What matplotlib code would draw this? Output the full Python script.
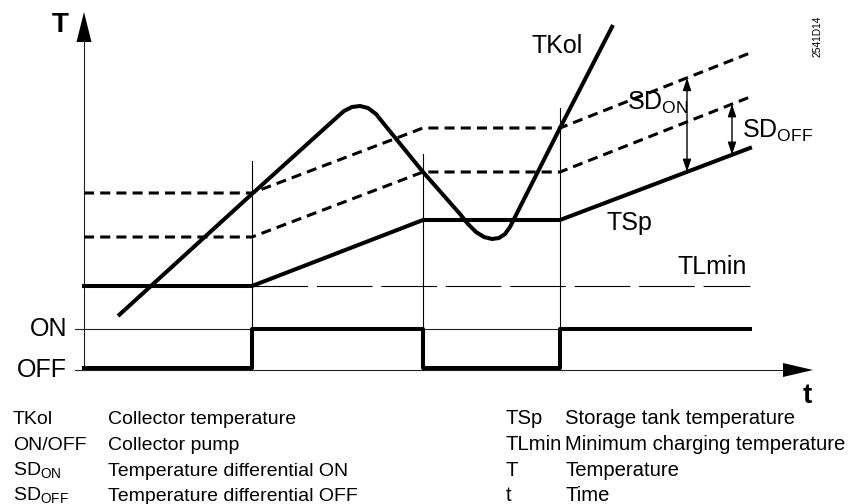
import numpy as np
import matplotlib
matplotlib.use('Agg')
import matplotlib.pyplot as plt
from matplotlib.patches import Polygon

plt.rcParams['font.family'] = ['Liberation Sans', 'DejaVu Sans']
plt.rcParams['mathtext.fontset'] = 'custom'
plt.rcParams['mathtext.rm'] = 'Liberation Sans'

# switching instants on the time axis and the storage tank curve
t_switch = [0, 168, 339, 476, 666]
tsp = [84, 84, 150, 150, 222]
tsp_sd_on = [177, 177, 242, 242, 317]    # TSp + SD_ON
tsp_sd_off = [133, 133, 198, 198, 273]   # TSp + SD_OFF
tlmin = 84
tlmin_t = [168, 666]
marker_tops = [209, 216, 262]            # heights of the switching markers
pump_state = [0, 1, 0, 1, 1]
on_level, off_level = 41, 0

# collector temperature
tkol_t = [34, 169, 251, 260, 268, 276, 284, 292, 300, 339, 376, 384, 392,
          400, 408, 415, 421, 426, 431, 476, 529]
tkol = [54, 177, 251, 259, 263, 264, 262, 256, 246, 198, 156, 146, 138,
        133, 131, 132, 136, 143, 153, 242, 345]

# where the differentials are marked
sd_on_t = 603
sd_off_t = 648

legend_keys_l = ['TKol', 'ON/OFF', r'SD$_{\mathregular{ON}}$', r'SD$_{\mathregular{OFF}}$']
legend_text_l = ['Collector temperature', 'Collector pump',
                 'Temperature differential ON', 'Temperature differential OFF']
legend_keys_r = ['TSp', 'TLmin', 'T', 't']
legend_text_r = ['Storage tank temperature', 'Minimum charging temperature',
                 'Temperature', 'Time']

fig = plt.figure(figsize=(8.57, 5.04), dpi=100)
ax = fig.add_axes([0, 0, 1, 1])
ax.set_xlim(-84, 773)
ax.set_ylim(-134, 370)
ax.axis('off')

thin = dict(color='#222222', lw=0.8)

# axes with arrow heads
ax.plot([0, 0], [0, 330], **thin)
ax.add_patch(Polygon([[-7.5, 328], [7.5, 328], [0, 358]], closed=True, color='black', lw=0))
ax.plot([-9, 700], [0, 0], **thin)
ax.add_patch(Polygon([[699, -7], [699, 7], [729, 0]], closed=True, color='black', lw=0))
ax.plot([-9, t_switch[-1]], [on_level, on_level], **thin)

# switching markers
for t, top in zip(t_switch[1:4], marker_tops):
    ax.plot([t, t], [0, top], color='black', lw=0.8)

# minimum charging temperature
ax.plot(tlmin_t, [tlmin, tlmin], color='black', lw=0.8, linestyle=(0, (50, 8)))

# switch-on / switch-off thresholds
ax.plot(t_switch, tsp_sd_on, color='black', lw=2.2, linestyle=(0, (3.3, 2.0)))
ax.plot(t_switch, tsp_sd_off, color='black', lw=2.2, linestyle=(0, (3.3, 2.0)))

ax.plot(t_switch, tsp, color='black', lw=2.9, solid_joinstyle='miter')
ax.plot(tkol_t, tkol, color='black', lw=2.9, solid_joinstyle='round',
        solid_capstyle='butt')

# pump signal
pump = [off_level + 2 + s * (on_level - off_level - 2) for s in pump_state]
ax.step(t_switch, pump, where='post', color='black', lw=2.9)

# differential arrows
arrow = dict(arrowstyle='<|-|>,head_length=0.75,head_width=0.25', color='black',
             lw=1.0, shrinkA=0, shrinkB=0, mutation_scale=10)
ax.annotate('', xy=(sd_on_t, np.interp(sd_on_t, t_switch, tsp_sd_on)),
            xytext=(sd_on_t, np.interp(sd_on_t, t_switch, tsp)), arrowprops=arrow)
ax.annotate('', xy=(sd_off_t, np.interp(sd_off_t, t_switch, tsp_sd_off)),
            xytext=(sd_off_t, np.interp(sd_off_t, t_switch, tsp)), arrowprops=arrow)

# labels
ax.text(-24, 345, 'T', fontsize=20, fontweight='bold', ha='center', va='center')
ax.text(723, -13, 't', fontsize=20, fontweight='bold', ha='center', va='top')
ax.text(-17, on_level, 'ON', fontsize=18, ha='right', va='center')
ax.text(-17, off_level, 'OFF', fontsize=18, ha='right', va='center')
ax.text(448, 317, 'TKol', fontsize=18, va='baseline')
ax.text(523, 140, 'TSp', fontsize=18, va='baseline')
ax.text(594, 96, 'TLmin', fontsize=18, va='baseline')
ax.text(543, 260, r'SD$_{\mathregular{ON}}$', fontsize=18, va='baseline')
ax.text(658, 232, r'SD$_{\mathregular{OFF}}$', fontsize=18, va='baseline')
ax.text(734, 334, '2541D14', fontsize=7.4, rotation=90, ha='center', va='center')

# key below the diagram
rows = [-54, -80, -106, -131]
for y, k, s in zip(rows, legend_keys_l, legend_text_l):
    ax.text(-71, y, k, fontsize=14, va='baseline')
    ax.text(24, y, s, fontsize=14, va='baseline')
for y, k, s in zip(rows, legend_keys_r, legend_text_r):
    ax.text(422, y, k, fontsize=14.6, va='baseline')
    ax.text(481, y, s, fontsize=14.6, va='baseline')

fig.savefig('out.png', dpi=100)
